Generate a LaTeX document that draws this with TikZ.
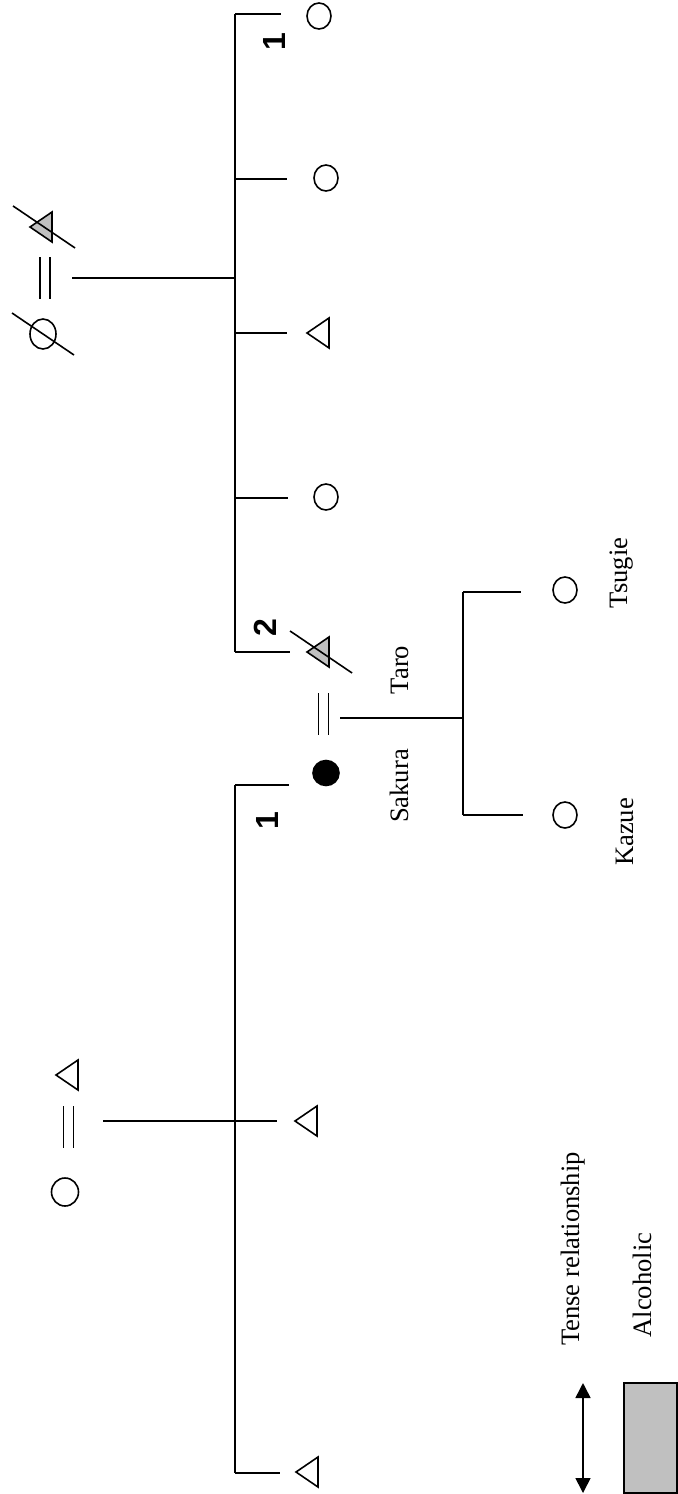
\documentclass[tikz,border=0pt]{standalone}
\usepackage{fontspec}
\setmainfont{Liberation Serif}
\newfontfamily\ordfont{Liberation Sans}
\usetikzlibrary{shapes.geometric,arrows.meta,calc}
\definecolor{alcgray}{RGB}{192,192,192}

% marriage bar (two short parallel strokes) and deceased slash
\newcommand{\wed}[1]{\draw ($(#1)+(-5,-21)$) -- ++(0,42) ($(#1)+(5,-21)$) -- ++(0,42);}
\newcommand{\dead}[1]{\draw ($(#1.center)+(-31,-21)$) -- ($(#1.center)+(31,21)$);}

\begin{document}
\begin{tikzpicture}[x=0.5pt, y=-0.5pt, line width=0.8pt,
  female/.style={draw, ellipse, minimum width=12pt, minimum height=13pt, inner sep=0pt, outer sep=0pt},
  male/.style={draw, isosceles triangle, shape border rotate=180, isosceles triangle stretches,
    minimum width=15pt, minimum height=11pt, inner sep=0pt, outer sep=0pt, anchor=apex},
  lbl/.style={rotate=90, inner sep=0pt, font=\fontsize{13.3}{15}\selectfont},
  order/.style={rotate=90, inner sep=0pt, font=\ordfont\bfseries\fontsize{16}{18}\selectfont}]
\useasboundingbox (0,0) rectangle (678,1494);

% father's parents (top left)
\node[male, fill=alcgray] (pgf) at (30,227) {};
\coordinate (pwed) at (45,278);
\node[female, minimum width=13pt, minimum height=15pt] (pgm) at (43,334) {};
\dead{pgf}
\dead{pgm}
\wed{pwed}
\coordinate (pline) at (72,278);

% sibling line of the father's generation
\coordinate (u1) at (235,14);
\coordinate (u2) at (235,179);
\coordinate (um) at (235,278);
\coordinate (u3) at (235,333);
\coordinate (u4) at (235,498);
\coordinate (u5) at (235,652);
\draw (u1) -- (u5);
\draw (pline) -- (um);

\node[female] (aunt1) at (319,16) {};
\node[female] (aunt2) at (326,178) {};
\node[male] (uncle1) at (307,333) {};
\node[female] (aunt3) at (326,497) {};
\node[male, fill=alcgray] (taro) at (307,652) {};
\dead{taro}
\draw[shorten >=13pt] (u1) -- (u1 -| aunt1.west);
\draw[shorten >=13.5pt] (u2) -- (u2 -| aunt2.west);
\draw[shorten >=10pt] (u3) -- (u3 -| uncle1.west);
\draw[shorten >=13pt] (u4) -- (u4 -| aunt3.west);
\draw[shorten >=8.5pt] (u5) -- (u5 -| taro.west);

% Taro = Sakura and their daughters
\coordinate (twed) at (323.5,714);
\wed{twed}
\node[female, fill=black, minimum width=13pt, minimum height=12.5pt] (sakura) at (326,773) {};
\coordinate (tline) at (340,718);
\coordinate (kmid) at (463,718);
\coordinate (k1) at (463,592);
\coordinate (k2) at (463,815);
\draw (tline) -- (kmid);
\draw (k1) -- (k2);
\node[female] (tsugie) at (565,590) {};
\node[female] (kazue) at (565,815) {};
\draw[shorten >=16pt] (k1) -- (k1 -| tsugie.west);
\draw[shorten >=15pt] (k2) -- (k2 -| kazue.west);

% mother's parents (bottom left)
\node[male] (mgf) at (56,1075) {};
\coordinate (mwed) at (68.5,1127);
\node[female, minimum width=13.5pt, minimum height=14pt] (mgm) at (65,1192) {};
\wed{mwed}
\coordinate (mline) at (103,1121);

% sibling line of the mother's generation
\coordinate (l1) at (235,785);
\coordinate (l2) at (235,1121);
\coordinate (l3) at (235,1473);
\draw (l1) -- (l3);
\node[male] (uncle2) at (295,1121) {};
\node[male] (uncle3) at (296,1472) {};
\draw[shorten >=12pt] (l1) -- (l1 -| sakura.west);
\draw[shorten >=9pt] (mline) -- (mline -| uncle2.west);
\draw[shorten >=8pt] (l3) -- (l3 -| uncle3.west);

% birth order marks
\node[order] (o1) at (274,42) {1};
\node[order] (o2) at (265,628) {2};
\node[order] (o3) at (267,821) {1};

% names
\node[lbl] (ntaro) at (400,670) {Taro};
\node[lbl] (nsakura) at (399,786) {Sakura};
\node[lbl] (ntsugie) at (622,573) {Tsugie};
\node[lbl] (nkazue) at (625,832) {Kazue};

% legend
\coordinate (tenseA) at (583,1383);
\coordinate (tenseB) at (583,1493);
\draw[{Triangle[length=7.5pt,width=7.5pt]}-{Triangle[length=7.5pt,width=7.5pt]}] (tenseA) -- (tenseB);
\node[lbl] (ntense) at (573,1249) {Tense relationship};
\node[draw, fill=alcgray, line width=0.6pt, minimum width=26.5pt, minimum height=55pt, inner sep=0pt] (alcbox) at (650.5,1438) {};
\node[lbl] (nalc) at (642,1285) {Alcoholic};

\end{tikzpicture}
\end{document}
